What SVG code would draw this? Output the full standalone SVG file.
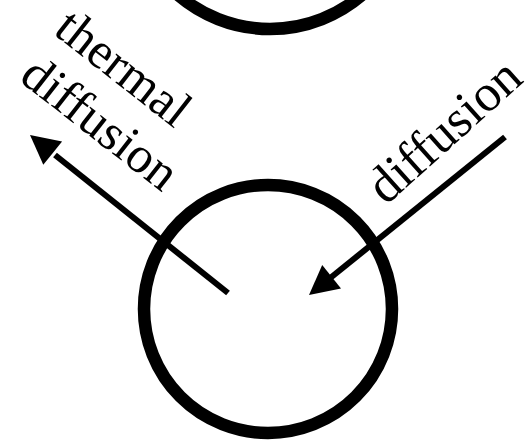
<svg xmlns="http://www.w3.org/2000/svg" width="529" height="442" viewBox="0 0 529 442">
  <style>
    .ring { fill: none; stroke: #000; stroke-width: 12.5; }
    .shaft { stroke: #000; stroke-width: 6; fill: none; }
    .head { fill: #000; stroke: none; }
    .lbl { font-family: "Liberation Serif", "Times New Roman", serif; font-size: 51px; fill: #000; }
  </style>
  <rect x="0" y="0" width="529" height="442" fill="#fff"/>
  <g id="particle-top">
    <circle class="ring" cx="270" cy="-112" r="141"/>
  </g>
  <g id="particle-bottom">
    <circle class="ring" cx="268" cy="309" r="124"/>
  </g>
  <g id="connectors">
    <g id="arrow-thermal">
      <line class="shaft" x1="228" y1="293" x2="55" y2="155"/>
      <polygon class="head" points="30,135 62.1,141.4 43.3,164.8"/>
    </g>
    <g id="arrow-diffusion">
      <line class="shaft" x1="505" y1="137" x2="329" y2="279"/>
      <polygon class="head" points="309,295 322.2,265.1 341,288.5"/>
    </g>
  </g>
  <g id="label-thermal" transform="translate(52,33) rotate(38)">
    <text class="lbl" x="0" y="0">thermal</text>
    <text class="lbl" x="2" y="58">diffusion</text>
  </g>
  <g id="label-diffusion" transform="translate(386,206) rotate(-42)">
    <text class="lbl" x="0" y="0" style="font-size:52px">diffusion</text>
  </g>
</svg>
